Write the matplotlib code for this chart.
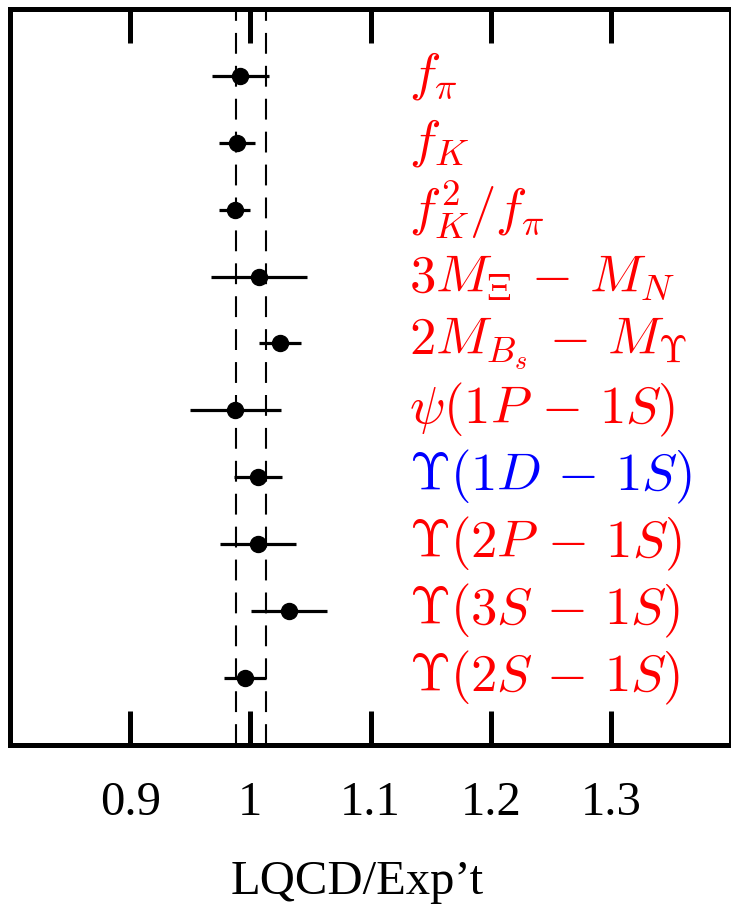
import matplotlib
matplotlib.use("Agg")
import matplotlib.pyplot as plt
import numpy as np

plt.rcParams['mathtext.fontset'] = 'cm'

labels = [r'$f_\pi$', r'$f_K$', r'$f_K^2/f_\pi$', r'$3M_\Xi\,-\,M_N$',
          r'$2M_{B_s}\,-\,M_\Upsilon$', r'$\psi(1P\,-\,1S)$', r'$\Upsilon(1D\,-\,1S)$',
          r'$\Upsilon(2P\,-\,1S)$', r'$\Upsilon(3S\,-\,1S)$', r'$\Upsilon(2S\,-\,1S)$']
label_colors = ['red', 'red', 'red', 'red', 'red', 'red', 'blue', 'red', 'red', 'red']
ratios = [0.9917, 0.989, 0.987, 1.007, 1.0245, 0.9875, 1.0064, 1.0065, 1.032, 0.9955]
errors = [0.0235, 0.015, 0.013, 0.040, 0.0175, 0.038, 0.020, 0.0315, 0.0317, 0.0178]
band = [0.9878, 1.013]
xticks = [0.9, 1.0, 1.1, 1.2, 1.3]
xtick_labels = ['0.9', '1', '1.1', '1.2', '1.3']

W, H = 731, 907
fig = plt.figure(figsize=(W / 100, H / 100), dpi=100)
ax = fig.add_axes([10 / W, (H - 744.5) / H, (731 - 10) / W, (744.5 - 9.2) / H])

n = len(labels)
ypos = np.arange(n, 0, -1)

for b in band:
    ax.axvline(b, color='black', lw=1.5, linestyle=(0, (10, 5.8)), zorder=1)

ax.errorbar(ratios, ypos, xerr=errors, fmt='o', color='black', ms=11.5,
            elinewidth=2.3, capsize=0, zorder=3)

for lab, col, y in zip(labels, label_colors, ypos):
    ax.text(1.1323, y, lab, color=col, fontsize=38, ha='left', va='center', zorder=4)

ax.set_xlim(0.8, 1.4)
ax.set_ylim(0, 11)
ax.set_yticks([])
ax.set_xticks(xticks)
ax.set_xticklabels(xtick_labels, family='Liberation Serif', fontsize=35)
ax.tick_params(axis='x', direction='in', top=True, bottom=True, length=24.5,
               width=3.6, pad=26)
for s in ax.spines.values():
    s.set_linewidth(3.6)

fig.text(357.5 / W, (H - 894) / H, "LQCD/Exp’t", family='Liberation Serif',
         fontsize=35, ha='center', va='baseline')

fig.savefig('out.png', dpi=100)
